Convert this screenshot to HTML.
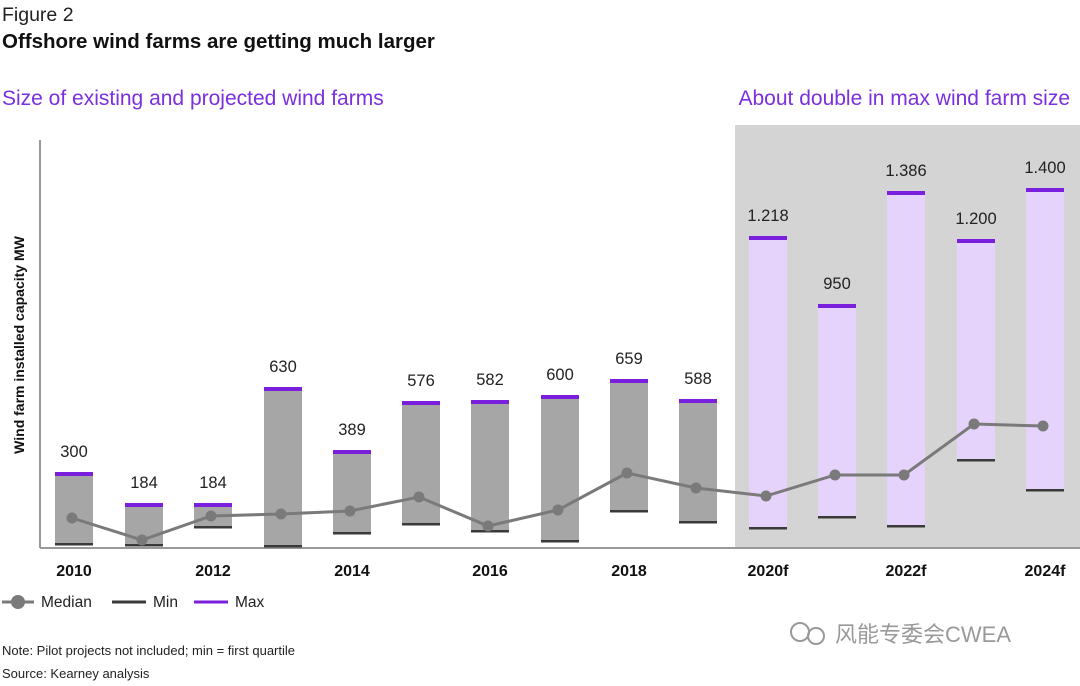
<!DOCTYPE html>
<html><head><meta charset="utf-8"><style>
body{margin:0;background:#fff;width:1080px;height:681px;overflow:hidden}
</style></head><body>
<svg width="1080" height="681" xmlns="http://www.w3.org/2000/svg" font-family="Liberation Sans, Noto Sans CJK SC, sans-serif">
<text x="2" y="21" font-size="19.5" fill="#222">Figure 2</text>
<text x="2" y="48" font-size="20.5" font-weight="bold" fill="#111">Offshore wind farms are getting much larger</text>
<text x="2" y="105" font-size="21" fill="#7a2fe0">Size of existing and projected wind farms</text>
<text x="1070" y="105" font-size="21" fill="#7a2fe0" text-anchor="end">About double in max wind farm size</text>
<rect x="735" y="125" width="345" height="423" fill="#d4d4d4"/>
<line x1="40" y1="140" x2="40" y2="548" stroke="#999" stroke-width="2"/>
<line x1="40" y1="548" x2="1080" y2="548" stroke="#999" stroke-width="2"/>
<text transform="translate(24,345) rotate(-90)" font-size="14" font-weight="bold" fill="#111" text-anchor="middle">Wind farm installed capacity MW</text>
<g fill="#a6a6a6">
<rect x="55" y="474" width="38" height="70"/>
<rect x="125" y="505" width="38" height="40"/>
<rect x="194" y="505" width="38" height="22"/>
<rect x="264" y="389" width="38" height="157"/>
<rect x="333" y="452" width="38" height="81"/>
<rect x="402" y="403" width="38" height="121"/>
<rect x="471" y="402" width="38" height="129"/>
<rect x="541" y="397" width="38" height="144"/>
<rect x="610" y="381" width="38" height="130"/>
<rect x="679" y="401" width="38" height="121"/>
</g>
<g fill="#e6d3fb">
<rect x="749" y="238" width="38" height="290"/>
<rect x="818" y="306" width="38" height="211"/>
<rect x="887" y="193" width="38" height="333"/>
<rect x="957" y="241" width="38" height="219"/>
<rect x="1026" y="190" width="38" height="300"/>
</g>
<g fill="#7a1fdc">
<rect x="55" y="472" width="38" height="4"/>
<rect x="125" y="503" width="38" height="4"/>
<rect x="194" y="503" width="38" height="4"/>
<rect x="264" y="387" width="38" height="4"/>
<rect x="333" y="450" width="38" height="4"/>
<rect x="402" y="401" width="38" height="4"/>
<rect x="471" y="400" width="38" height="4"/>
<rect x="541" y="395" width="38" height="4"/>
<rect x="610" y="379" width="38" height="4"/>
<rect x="679" y="399" width="38" height="4"/>
<rect x="749" y="236" width="38" height="4"/>
<rect x="818" y="304" width="38" height="4"/>
<rect x="887" y="191" width="38" height="4"/>
<rect x="957" y="239" width="38" height="4"/>
<rect x="1026" y="188" width="38" height="4"/>
</g>
<g fill="#3a3a3a">
<rect x="55" y="543" width="38" height="2.5"/>
<rect x="125" y="544" width="38" height="2.5"/>
<rect x="194" y="526" width="38" height="2.5"/>
<rect x="264" y="545" width="38" height="2.5"/>
<rect x="333" y="532" width="38" height="2.5"/>
<rect x="402" y="523" width="38" height="2.5"/>
<rect x="471" y="530" width="38" height="2.5"/>
<rect x="541" y="540" width="38" height="2.5"/>
<rect x="610" y="510" width="38" height="2.5"/>
<rect x="679" y="521" width="38" height="2.5"/>
<rect x="749" y="527" width="38" height="2.5"/>
<rect x="818" y="516" width="38" height="2.5"/>
<rect x="887" y="525" width="38" height="2.5"/>
<rect x="957" y="459" width="38" height="2.5"/>
<rect x="1026" y="489" width="38" height="2.5"/>
</g>
<g font-size="16.5" fill="#222" text-anchor="middle">
<text x="74" y="457">300</text>
<text x="144" y="488">184</text>
<text x="213" y="488">184</text>
<text x="283" y="372">630</text>
<text x="352" y="435">389</text>
<text x="421" y="386">576</text>
<text x="490" y="385">582</text>
<text x="560" y="380">600</text>
<text x="629" y="364">659</text>
<text x="698" y="384">588</text>
<text x="768" y="221">1.218</text>
<text x="837" y="289">950</text>
<text x="906" y="176">1.386</text>
<text x="976" y="224">1.200</text>
<text x="1045" y="173">1.400</text>
</g>
<polyline points="72,518 142,540 211,516 281,514 350,511 419,497 488,526 558,510 627,473 696,488 766,496 835,475 904,475 974,424 1043,426" fill="none" stroke="#7a7a7a" stroke-width="3"/>
<g fill="#7a7a7a">
<circle cx="72" cy="518" r="5.5"/><circle cx="142" cy="540" r="5.5"/><circle cx="211" cy="516" r="5.5"/><circle cx="281" cy="514" r="5.5"/><circle cx="350" cy="511" r="5.5"/><circle cx="419" cy="497" r="5.5"/><circle cx="488" cy="526" r="5.5"/><circle cx="558" cy="510" r="5.5"/><circle cx="627" cy="473" r="5.5"/><circle cx="696" cy="488" r="5.5"/><circle cx="766" cy="496" r="5.5"/><circle cx="835" cy="475" r="5.5"/><circle cx="904" cy="475" r="5.5"/><circle cx="974" cy="424" r="5.5"/><circle cx="1043" cy="426" r="5.5"/>
</g>
<g font-size="16" font-weight="bold" fill="#111" text-anchor="middle">
<text x="74" y="576">2010</text><text x="213" y="576">2012</text><text x="352" y="576">2014</text><text x="490" y="576">2016</text><text x="629" y="576">2018</text><text x="768" y="576">2020f</text><text x="906" y="576">2022f</text><text x="1045" y="576">2024f</text>
</g>
<line x1="2" y1="602" x2="34" y2="602" stroke="#7a7a7a" stroke-width="3"/><circle cx="18" cy="602" r="7" fill="#7a7a7a"/>
<text x="41" y="607" font-size="15.5" fill="#222">Median</text>
<line x1="112" y1="602" x2="146" y2="602" stroke="#3a3a3a" stroke-width="3"/>
<text x="153" y="607" font-size="15.5" fill="#222">Min</text>
<line x1="194" y1="602" x2="228" y2="602" stroke="#7a1fdc" stroke-width="3"/>
<text x="235" y="607" font-size="15.5" fill="#222">Max</text>
<text x="2" y="655" font-size="13" fill="#222">Note: Pilot projects not included; min = first quartile</text>
<text x="2" y="678" font-size="13" fill="#222">Source: Kearney analysis</text>
<circle cx="800" cy="632" r="9" fill="none" stroke="#999" stroke-width="2"/>
<circle cx="816" cy="636" r="8" fill="none" stroke="#999" stroke-width="2"/>
<text x="835" y="642" font-size="22" fill="#999">风能专委会CWEA</text>
</svg>
</body></html>
